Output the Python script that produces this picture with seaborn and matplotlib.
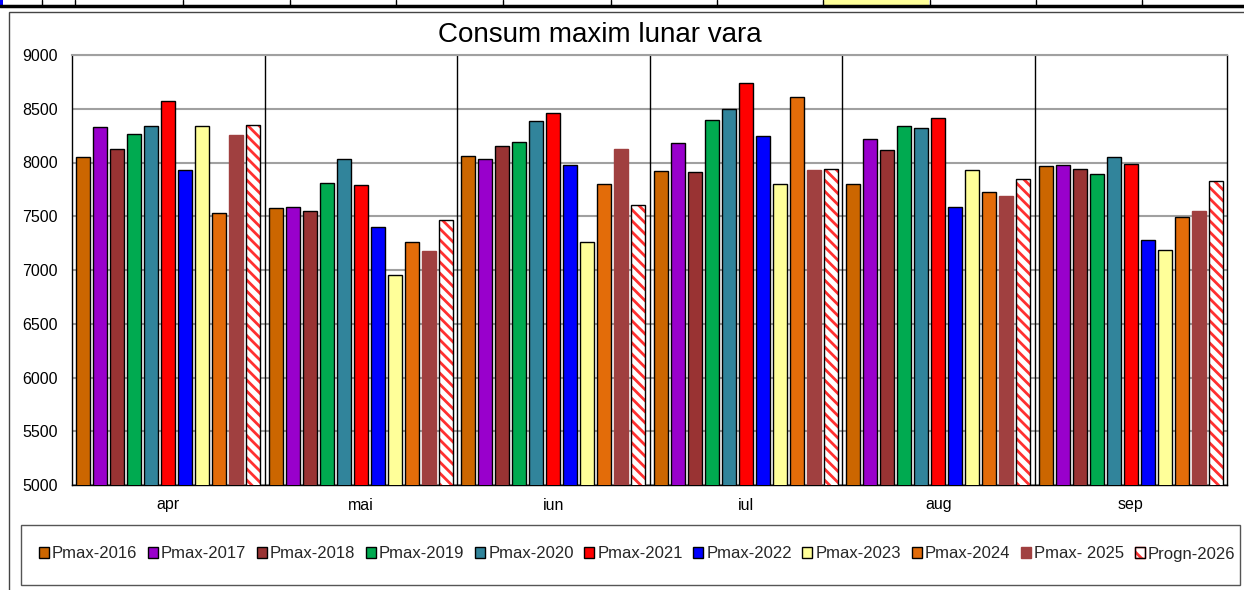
import pandas as pd
import matplotlib.pyplot as plt
import seaborn as sns
from matplotlib.patches import Patch, Rectangle
from matplotlib.lines import Line2D

# Consum maxim lunar vara - date
luni = ['apr', 'mai', 'iun', 'iul', 'aug', 'sep']
serii = ['Pmax-2016', 'Pmax-2017', 'Pmax-2018', 'Pmax-2019', 'Pmax-2020', 'Pmax-2021',
         'Pmax-2022', 'Pmax-2023', 'Pmax-2024', 'Pmax- 2025', 'Progn-2026']

p2016 = [8050, 7577, 8063, 7921, 7803, 7967]
p2017 = [8330, 7589, 8033, 8184, 8219, 7974]
p2018 = [8124, 7552, 8154, 7915, 8120, 7940]
p2019 = [8265, 7806, 8194, 8395, 8340, 7896]
p2020 = [8340, 8033, 8389, 8500, 8321, 8054]
p2021 = [8572, 7791, 8463, 8740, 8411, 7986]
p2022 = [7930, 7400, 7980, 8247, 7589, 7279]
p2023 = [8340, 6956, 7257, 7797, 7933, 7183]
p2024 = [7530, 7263, 7800, 8607, 7728, 7493]
p2025 = [8256, 7174, 8126, 7928, 7691, 7546]
prog2026 = [8350, 7465, 7602, 7943, 7849, 7828]

culori = ['#CC6600', '#9900CC', '#993333', '#00AA50', '#31849B', '#FF0000',
          '#0000FF', '#FFFF99', '#E36C09', '#A04040', '#FFFFFF']

valori = [p2016, p2017, p2018, p2019, p2020, p2021, p2022, p2023, p2024, p2025, prog2026]
rows = []
for s, v in zip(serii, valori):
    for l, y in zip(luni, v):
        rows.append({'luna': l, 'serie': s, 'val': y})
df = pd.DataFrame(rows)

sns.set_style('white')
plt.rcParams['font.family'] = ['Liberation Sans', 'DejaVu Sans']
plt.rcParams['hatch.linewidth'] = 2.0

fig = plt.figure(figsize=(12.44, 5.90), dpi=100)
ax = fig.add_axes([72 / 1244, 105 / 590, 1155 / 1244, 430 / 590])

sns.barplot(data=df, x='luna', y='val', hue='serie', order=luni, hue_order=serii,
            palette=culori, saturation=1, width=0.972, gap=0.2, errorbar=None,
            edgecolor='black', linewidth=1.0, legend=False, ax=ax, zorder=3)

# Pmax-2025 fara contur
for p in ax.containers[9]:
    p.set_edgecolor('#A04040')
# prognoza hasurata rosu cu contur negru
for p in ax.containers[10]:
    p.set_edgecolor('#FF3030')
    p.set_linewidth(0)
    p.set_hatch('\\\\\\')
    ax.add_patch(Rectangle(p.get_xy(), p.get_width(), p.get_height(), fill=False,
                           edgecolor='black', linewidth=1.0, zorder=4))

ax.set_ylim(5000, 9000)
ax.set_xlim(-0.5, 5.5)
ax.set_yticks(range(5000, 9001, 500))
ax.yaxis.grid(True, color='#A0A0A0', linewidth=1.5, zorder=0)
ax.set_axisbelow(True)
for xv in [0.5, 1.5, 2.5, 3.5, 4.5]:
    ax.axvline(xv, color='black', linewidth=1.0, zorder=2)
ax.set_xlabel('')
ax.set_ylabel('')
ax.tick_params(axis='both', length=0, labelsize=11.5, colors='black')
ax.tick_params(axis='y', pad=10)
ax.tick_params(axis='x', pad=9)
for s in ['left', 'bottom', 'right']:
    ax.spines[s].set_color('black')
    ax.spines[s].set_linewidth(1.0)
ax.spines['top'].set_color('#A0A0A0')
ax.spines['top'].set_linewidth(1.5)

fig.text(600 / 1244, 1 - 35 / 590, 'Consum maxim lunar vara', ha='center', va='center',
         fontsize=20, color='black')

# legenda in caseta de jos
handles = []
for s, c in zip(serii, culori):
    if s == 'Pmax- 2025':
        handles.append(Patch(facecolor=c, edgecolor=c, label=s))
    elif s == 'Progn-2026':
        handles.append((Patch(facecolor='white', edgecolor='#FF3030', hatch='\\\\'),
                        Patch(facecolor='none', edgecolor='black', linewidth=1.0)))
    else:
        handles.append(Patch(facecolor=c, edgecolor='black', linewidth=1.0, label=s))
fig.legend(handles=handles, labels=serii, loc='center', bbox_to_anchor=(637 / 1244, 1 - 554 / 590),
           ncol=11, frameon=False, fontsize=12, handlelength=0.6, handleheight=0.6,
           handletextpad=0.2, columnspacing=0.62, borderpad=0)
fig.add_artist(Rectangle((21 / 1244, 1 - 585 / 590), 1219 / 1244, 60 / 590,
                         transform=fig.transFigure, fill=False, edgecolor='#555555',
                         linewidth=1.0))

# chenarul zonei graficului si randul de celule de deasupra
fig.add_artist(Rectangle((9 / 1244, -0.05), 1.2, 1 - 12 / 590 + 0.05,
                         transform=fig.transFigure, fill=False, edgecolor='#444444',
                         linewidth=1.0))
fig.add_artist(Rectangle((823 / 1244, 1 - 5 / 590), 106 / 1244, 5 / 590,
                         transform=fig.transFigure, facecolor='#FFFF99', edgecolor='none'))
fig.add_artist(Line2D([0, 1], [1 - 5.5 / 590, 1 - 5.5 / 590], transform=fig.transFigure,
                      color='black', linewidth=2.5))
for xc in [42, 75, 183, 290, 396, 503, 611, 717, 823, 930, 1036, 1142]:
    fig.add_artist(Line2D([xc / 1244, xc / 1244], [1 - 5 / 590, 1], transform=fig.transFigure,
                          color='black', linewidth=1.0))
fig.add_artist(Rectangle((0, 1 - 6 / 590), 3 / 1244, 6 / 590, transform=fig.transFigure,
                         facecolor='#0000FF', edgecolor='none'))

fig.savefig('out.png', dpi=100)
